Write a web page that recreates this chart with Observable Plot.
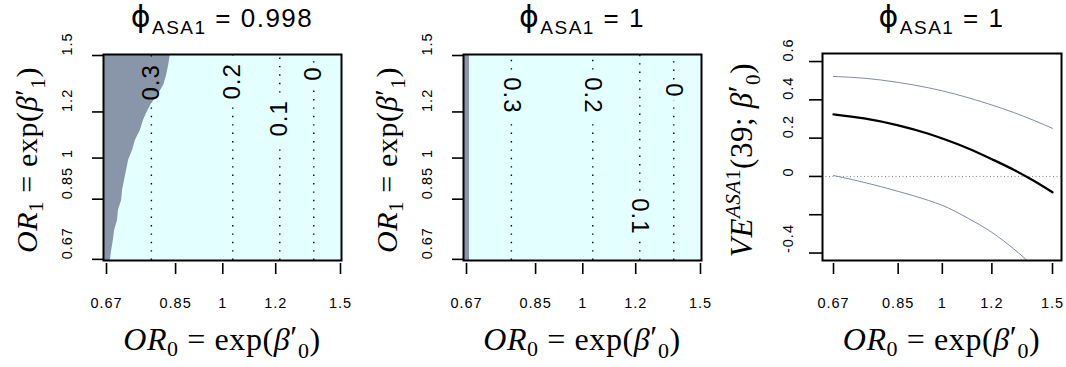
<!DOCTYPE html>
<html><head><meta charset="utf-8">
<script src="https://cdn.jsdelivr.net/npm/d3@7"></script>
<script src="https://cdn.jsdelivr.net/npm/@observablehq/plot@0.6"></script>
<style>
body{margin:0;background:#fff;}
#wrap{position:relative;width:1066px;height:367px;overflow:hidden;background:#fff;}
#wrap svg{position:absolute;top:0;}
#wrap text{letter-spacing:1px;}
</style></head><body><div id="wrap"></div>
<script>
// ---------- data ----------
const xTicks = [0.67, 0.85, 1, 1.2, 1.5];
const xTickLabels = ["0.67", "0.85", "1", "1.2", "1.5"];
const yTicks = [0.67, 0.85, 1, 1.2, 1.5];
const yTickLabels = ["0.67", "0.85", "1", "1.2", "1.5"];
const phiValues = ["0.998", "1", "1"];

// panel 1: left (grey) region boundary, OR0 value at each OR1 row
const p1Or1 = [0.667, 0.694, 0.722, 0.751, 0.782, 0.813, 0.846, 0.880, 0.916, 0.953, 0.991, 1.031, 1.072, 1.116, 1.160, 1.193, 1.232, 1.281, 1.333, 1.386, 1.443, 1.506];
const p1Bound = [0.679, 0.682, 0.686, 0.689, 0.696, 0.698, 0.706, 0.708, 0.713, 0.718, 0.723, 0.733, 0.740, 0.753, 0.761, 0.769, 0.780, 0.799, 0.816, 0.824, 0.830, 0.835];
// panel 2: grey strip boundary
const p2Bound = 0.677;

// contour lines (vertical) and their label positions
const contourLevels = ["0.3", "0.2", "0.1", "0"];
const contourOr0 = [0.782, 1.035, 1.217, 1.368];
const p1LabelOr1 = [1.349, 1.354, 1.170, 1.397];
const p2LabelOr1 = [1.281, 1.281, 0.794, 1.307];

// panel 3: VE estimate with bounds
const or0Grid = [0.67, 0.75, 0.85, 0.95, 1.0, 1.1, 1.2, 1.3, 1.4, 1.5];
const veEst   = [0.324, 0.303, 0.267, 0.223, 0.198, 0.146, 0.090, 0.035, -0.023, -0.083];
const veUpper = [0.522, 0.513, 0.491, 0.463, 0.447, 0.411, 0.373, 0.334, 0.293, 0.251];
const veLower = [0.005, -0.031, -0.078, -0.125, -0.151, -0.219, -0.292, -0.378, -0.470, -0.564];
const veTicks = [-0.4, -0.2, 0, 0.2, 0.4, 0.6];
const veTickLabels = ["-0.4", "", "0", "0.2", "0.4", "0.6"];

// ---------- styles ----------
const CYAN = "#e4ffff", GREY = "#8996aa", SLATE = "#7f8ca6";
const SANS = "Liberation Sans, Arial, sans-serif";
const SERIF = "Liberation Serif, Times New Roman, serif";
const wrap = document.getElementById("wrap");

const xDomCont = [0.6631, 1.5052];
const yDomCont = [0.667, 1.506];
const boxTop = 54, boxBottom = 260;
const ppl = (boxBottom - boxTop) / Math.log(yDomCont[1] / yDomCont[0]);
const labelSize = 24;
const tickSize = 14.5;

function contourSegments(labelY) {
  const segs = [];
  contourOr0.forEach((x, i) => {
    const half = (contourLevels[i].length * 0.62 * labelSize) / 2 + 3;
    const g = half / ppl, yc = Math.log(labelY[i]);
    segs.push({x, y1: yDomCont[0], y2: Math.exp(yc - g)});
    segs.push({x, y1: Math.exp(yc + g), y2: yDomCont[1]});
  });
  return segs;
}

function addTitle(svg, cx, value) {
  const t = d3.select(svg).append("text").attr("x", cx).attr("y", 27)
    .attr("text-anchor", "middle").attr("font-family", SANS).attr("font-size", 26)
    .attr("fill", "black").style("letter-spacing", "1.5px");
  t.append("tspan").attr("font-family", "DejaVu Sans").attr("font-size", 30).text("\u03D5");
  t.append("tspan").attr("font-size", 19).attr("dy", 7).text("ASA1");
  t.append("tspan").attr("dy", -7).text(" = " + value);
}

function orTitle(sel, idx, size) {
  const sub = Math.round(size * 0.69);
  sel.attr("font-family", SERIF).attr("font-size", size).attr("fill", "black")
    .style("letter-spacing", "0.6px");
  sel.append("tspan").attr("font-style", "italic").text("OR");
  sel.append("tspan").attr("font-size", sub).attr("dy", 6).text(idx);
  sel.append("tspan").attr("dy", -6).text(" = exp(");
  sel.append("tspan").attr("font-style", "italic").text("\u03B2");
  sel.append("tspan").attr("dy", -2).text("\u2032");
  sel.append("tspan").attr("font-size", sub).attr("dy", 10).text(idx);
  sel.append("tspan").attr("dy", -8).text(")");
}

function addXTitle(svg, cx) {
  const t = d3.select(svg).append("text").attr("x", cx).attr("y", 350).attr("text-anchor", "middle");
  orTitle(t, "0", 32);
}
function addYTitle(svg, bx, cy) {
  const t = d3.select(svg).append("text").attr("text-anchor", "middle")
    .attr("transform", `translate(${bx},${cy}) rotate(-90)`);
  orTitle(t, "1", 30);
}

function xAxisMarks() {
  return [
    Plot.axisX(xTicks, {tickSize: 11, dy: 3, tickFormat: () => "", label: null, strokeWidth: 1.6}),
    Plot.text(xTicks, {x: d => d, text: (d, i) => xTickLabels[i], frameAnchor: "bottom",
      lineAnchor: "top", dy: 37, fontSize: tickSize, fill: "black"})
  ];
}

function contourPanel(left, labelY, rotate, greyMarks) {
  const svg = Plot.plot({
    width: 355, height: 367,
    marginLeft: 103, marginRight: 14, marginTop: boxTop, marginBottom: 367 - boxBottom,
    style: {background: "transparent", fontFamily: SANS, overflow: "visible"},
    x: {type: "log", domain: xDomCont},
    y: {type: "log", domain: yDomCont},
    marks: [
      Plot.frame({fill: CYAN}),
      ...greyMarks,
      Plot.ruleX(contourSegments(labelY), {x: "x", y1: "y1", y2: "y2", stroke: "black",
        strokeWidth: 1.4, strokeDasharray: "1.4,7"}),
      Plot.text(contourLevels, {x: (d, i) => contourOr0[i], y: (d, i) => labelY[i], text: d => d,
        rotate, fontSize: labelSize, fill: "black"}),
      Plot.frame({stroke: "black", strokeWidth: 2}),
      ...xAxisMarks(),
      Plot.axisY(yTicks, {tickSize: 11, tickFormat: () => "", label: null, strokeWidth: 1.6}),
      Plot.text(yTicks, {y: d => d, text: (d, i) => yTickLabels[i], frameAnchor: "left",
        dx: -36, rotate: -90, fontSize: tickSize, fill: "black"})
    ]
  });
  svg.style.left = left + "px";
  wrap.appendChild(svg);
  return svg;
}

// Panel 1
const rows1 = p1Or1.map((y, i) => ({or1: y, bound: p1Bound[i]}));
const s1 = contourPanel(0, p1LabelOr1, -90, [
  Plot.areaX(rows1, {y: "or1", x1: () => xDomCont[0], x2: "bound", fill: GREY, curve: "linear"})
]);
addTitle(s1, 222, phiValues[0]);
addXTitle(s1, 222);
addYTitle(s1, 37, 160);

// Panel 2
const s2 = contourPanel(360, p2LabelOr1, 90, [
  Plot.rect([p2Bound], {x1: () => xDomCont[0], x2: d => d, y1: () => yDomCont[0], y2: () => yDomCont[1], fill: GREY})
]);
addTitle(s2, 222, phiValues[1]);
addXTitle(s2, 222);
addYTitle(s2, 37, 160);

// Panel 3
const rows3 = or0Grid.map((x, i) => ({or0: x, est: veEst[i], upper: veUpper[i], lower: veLower[i]}));
const s3 = Plot.plot({
  width: 346, height: 367,
  marginLeft: 102, marginRight: 5, marginTop: 53, marginBottom: 107,
  style: {background: "transparent", fontFamily: SANS, overflow: "visible"},
  x: {type: "log", domain: [0.6434, 1.5505]},
  y: {domain: [-0.439, 0.642]},
  marks: [
    Plot.ruleY([0], {stroke: "#666", strokeWidth: 0.8, strokeDasharray: "1,2.5"}),
    Plot.line(rows3, {x: "or0", y: "upper", stroke: SLATE, strokeWidth: 1, curve: "monotone-x", clip: true}),
    Plot.line(rows3, {x: "or0", y: "lower", stroke: SLATE, strokeWidth: 1, curve: "monotone-x", clip: true}),
    Plot.line(rows3, {x: "or0", y: "est", stroke: "black", strokeWidth: 2.3, curve: "monotone-x", clip: true}),
    Plot.frame({stroke: "black", strokeWidth: 2}),
    ...xAxisMarks(),
    Plot.axisY(veTicks, {tickSize: 13, tickFormat: () => "", label: null, strokeWidth: 1.6}),
    Plot.text(veTicks, {y: d => d, text: (d, i) => veTickLabels[i], frameAnchor: "left",
      dx: -34, rotate: -90, fontSize: tickSize, fill: "black"})
  ]
});
s3.style.left = "720px";
wrap.appendChild(s3);
addTitle(s3, 221.5, phiValues[2]);
addXTitle(s3, 221.5);
{
  const t = d3.select(s3).append("text").attr("text-anchor", "middle")
    .attr("transform", "translate(32,160) rotate(-90)")
    .attr("font-family", SERIF).attr("font-size", 31).attr("fill", "black")
    .style("letter-spacing", "0.6px");
  t.append("tspan").attr("font-style", "italic").text("VE");
  t.append("tspan").attr("font-size", 21).attr("dy", -12).attr("font-style", "italic").text("ASA");
  t.append("tspan").attr("font-size", 21).text("1");
  t.append("tspan").attr("dy", 12).text("(39; ");
  t.append("tspan").attr("font-style", "italic").text("\u03B2");
  t.append("tspan").attr("dy", -2).text("\u2032");
  t.append("tspan").attr("font-size", 21).attr("dy", 10).text("0");
  t.append("tspan").attr("dy", -8).text(")");
}
</script></body></html>
